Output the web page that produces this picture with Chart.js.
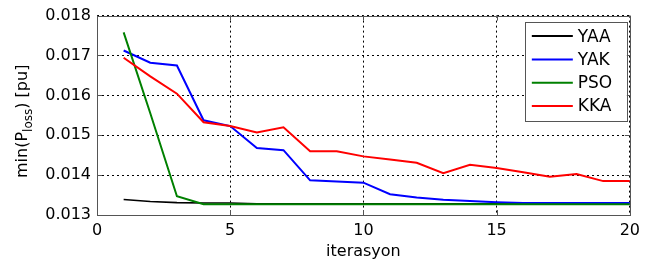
<!DOCTYPE html>
<html>
<head>
<meta charset="utf-8">
<script src="https://cdn.jsdelivr.net/npm/chart.js@4.4.1/dist/chart.umd.min.js"></script>
<style>
  html, body { margin: 0; padding: 0; background: #fff; }
  #wrap { width: 646px; height: 265px; }
</style>
</head>
<body>
<div id="wrap"><canvas id="chart"></canvas></div>
<script>
// values
const iterations = [1, 2, 3, 4, 5, 6, 7, 8, 9, 10, 11, 12, 13, 14, 15, 16, 17, 18, 19, 20];
const yaa = [0.01339, 0.01334, 0.01331, 0.01330, 0.01330, 0.01328, 0.01328, 0.01328, 0.01328, 0.01328,
             0.01328, 0.01328, 0.01328, 0.01328, 0.01328, 0.01328, 0.01328, 0.01328, 0.01328, 0.01328];
const yak = [0.017125, 0.01682, 0.01675, 0.015375, 0.01523, 0.01468, 0.014625, 0.01387, 0.01384, 0.01381,
             0.01352, 0.01344, 0.01338, 0.01335, 0.01332, 0.01330, 0.01330, 0.01330, 0.01330, 0.01330];
const pso = [0.01758, 0.01555, 0.01347, 0.01327, 0.01327, 0.01327, 0.01327, 0.01327, 0.01327, 0.01327,
             0.01327, 0.01327, 0.01327, 0.01327, 0.01327, 0.01327, 0.01327, 0.01327, 0.01327, 0.01327];
const kka = [0.016942, 0.016475, 0.016042, 0.015325, 0.015233, 0.01507, 0.0152, 0.0146, 0.0146, 0.01447,
             0.01439, 0.01431, 0.01405, 0.01426, 0.01418, 0.01407, 0.01396, 0.01403, 0.01385, 0.01385];

const X_TICKS = [0, 5, 10, 15, 20];
const Y_TICKS = [0.013, 0.014, 0.015, 0.016, 0.017, 0.018];

const FONT = 'DejaVu Sans';
const AXIS_GREY = '#555555';

const toXY = vals => vals.map((v, i) => ({ x: iterations[i], y: v }));

// MATLAB style box with inward ticks, plus legend and y label with subscript
const matlabFrame = {
  id: 'matlabFrame',
  afterDatasetsDraw(chart) {
    const { ctx, chartArea: a, scales } = chart;
    ctx.save();
    ctx.strokeStyle = AXIS_GREY;
    ctx.lineWidth = 1;
    ctx.strokeRect(Math.round(a.left) + 0.5, Math.round(a.top) + 0.5,
                   Math.round(a.right - a.left), Math.round(a.bottom - a.top));
    const tl = 5;
    ctx.beginPath();
    X_TICKS.forEach(v => {
      const px = Math.round(scales.x.getPixelForValue(v)) + 0.5;
      ctx.moveTo(px, a.bottom); ctx.lineTo(px, a.bottom - tl);
      ctx.moveTo(px, a.top); ctx.lineTo(px, a.top + tl);
    });
    Y_TICKS.forEach(v => {
      const py = Math.round(scales.y.getPixelForValue(v)) + 0.5;
      ctx.moveTo(a.left, py); ctx.lineTo(a.left + tl, py);
      ctx.moveTo(a.right, py); ctx.lineTo(a.right - tl, py);
    });
    ctx.stroke();

    // legend box
    const bx = a.right - 105, by = a.top + 6.5, bw = 102, bh = 99;
    ctx.fillStyle = '#fff';
    ctx.fillRect(bx, by, bw, bh);
    ctx.strokeStyle = AXIS_GREY;
    ctx.strokeRect(Math.round(bx) + 0.5, Math.round(by) + 0.5, bw, bh);
    ctx.font = '17px "' + FONT + '"';
    ctx.textBaseline = 'middle';
    ctx.textAlign = 'left';
    chart.data.datasets.forEach((ds, i) => {
      const ly = by + 14 + i * 23.3;
      ctx.strokeStyle = ds.borderColor;
      ctx.lineWidth = 2;
      ctx.beginPath();
      ctx.moveTo(bx + 7, ly); ctx.lineTo(bx + 48, ly);
      ctx.stroke();
      ctx.fillStyle = '#000';
      ctx.fillText(ds.label, bx + 53, ly + 1);
    });

    // y axis label: min(P_loss) [pu]
    const parts = [['min(P', 16, 0], ['loss', 12, 5], [') [pu]', 16, 0]];
    ctx.fillStyle = '#000';
    ctx.textBaseline = 'alphabetic';
    let total = 0;
    parts.forEach(p => { ctx.font = p[1] + 'px "' + FONT + '"'; p.push(ctx.measureText(p[0]).width); total += p[3]; });
    ctx.translate(27, (a.top + a.bottom) / 2 + 6);
    ctx.rotate(-Math.PI / 2);
    let cx = -total / 2;
    parts.forEach(p => {
      ctx.font = p[1] + 'px "' + FONT + '"';
      ctx.fillText(p[0], cx, p[2]);
      cx += p[3];
    });
    ctx.restore();
  }
};

new Chart(document.getElementById('chart'), {
  type: 'line',
  data: {
    datasets: [
      { label: 'YAA', data: toXY(yaa), borderColor: '#000000', borderWidth: 1.6, order: 4 },
      { label: 'YAK', data: toXY(yak), borderColor: '#0000ff', borderWidth: 2, order: 3 },
      { label: 'PSO', data: toXY(pso), borderColor: '#008000', borderWidth: 2, order: 2 },
      { label: 'KKA', data: toXY(kka), borderColor: '#ff0000', borderWidth: 2, order: 1 }
    ]
  },
  options: {
    responsive: true,
    maintainAspectRatio: false,
    animation: false,
    layout: { padding: { top: 14, right: 11, left: 0, bottom: 0 } },
    elements: { point: { radius: 0 }, line: { tension: 0 } },
    plugins: { legend: { display: false }, tooltip: { enabled: false } },
    scales: {
      x: {
        type: 'linear', min: 0, max: 20,
        afterFit: s => { s.height = 50; },
        afterBuildTicks: s => { s.ticks = X_TICKS.map(v => ({ value: v })); },
        grid: { color: '#000', lineWidth: 1, drawTicks: false },
        border: { display: false, dash: [2, 3] },
        ticks: { color: '#000', padding: 6, font: { family: FONT, size: 16 }, maxRotation: 0 },
        title: { display: true, text: 'iterasyon', color: '#000', font: { family: FONT, size: 16 }, padding: { top: 0, bottom: 4 } }
      },
      y: {
        min: 0.013, max: 0.018,
        afterFit: s => { s.width = 97; },
        afterBuildTicks: s => { s.ticks = Y_TICKS.map(v => ({ value: v })); },
        grid: { color: '#000', lineWidth: 1, drawTicks: false },
        border: { display: false, dash: [2, 3] },
        ticks: { color: '#000', padding: 6, font: { family: FONT, size: 16 }, callback: v => v.toFixed(3) }
      }
    }
  },
  plugins: [matlabFrame]
});
</script>
</body>
</html>
